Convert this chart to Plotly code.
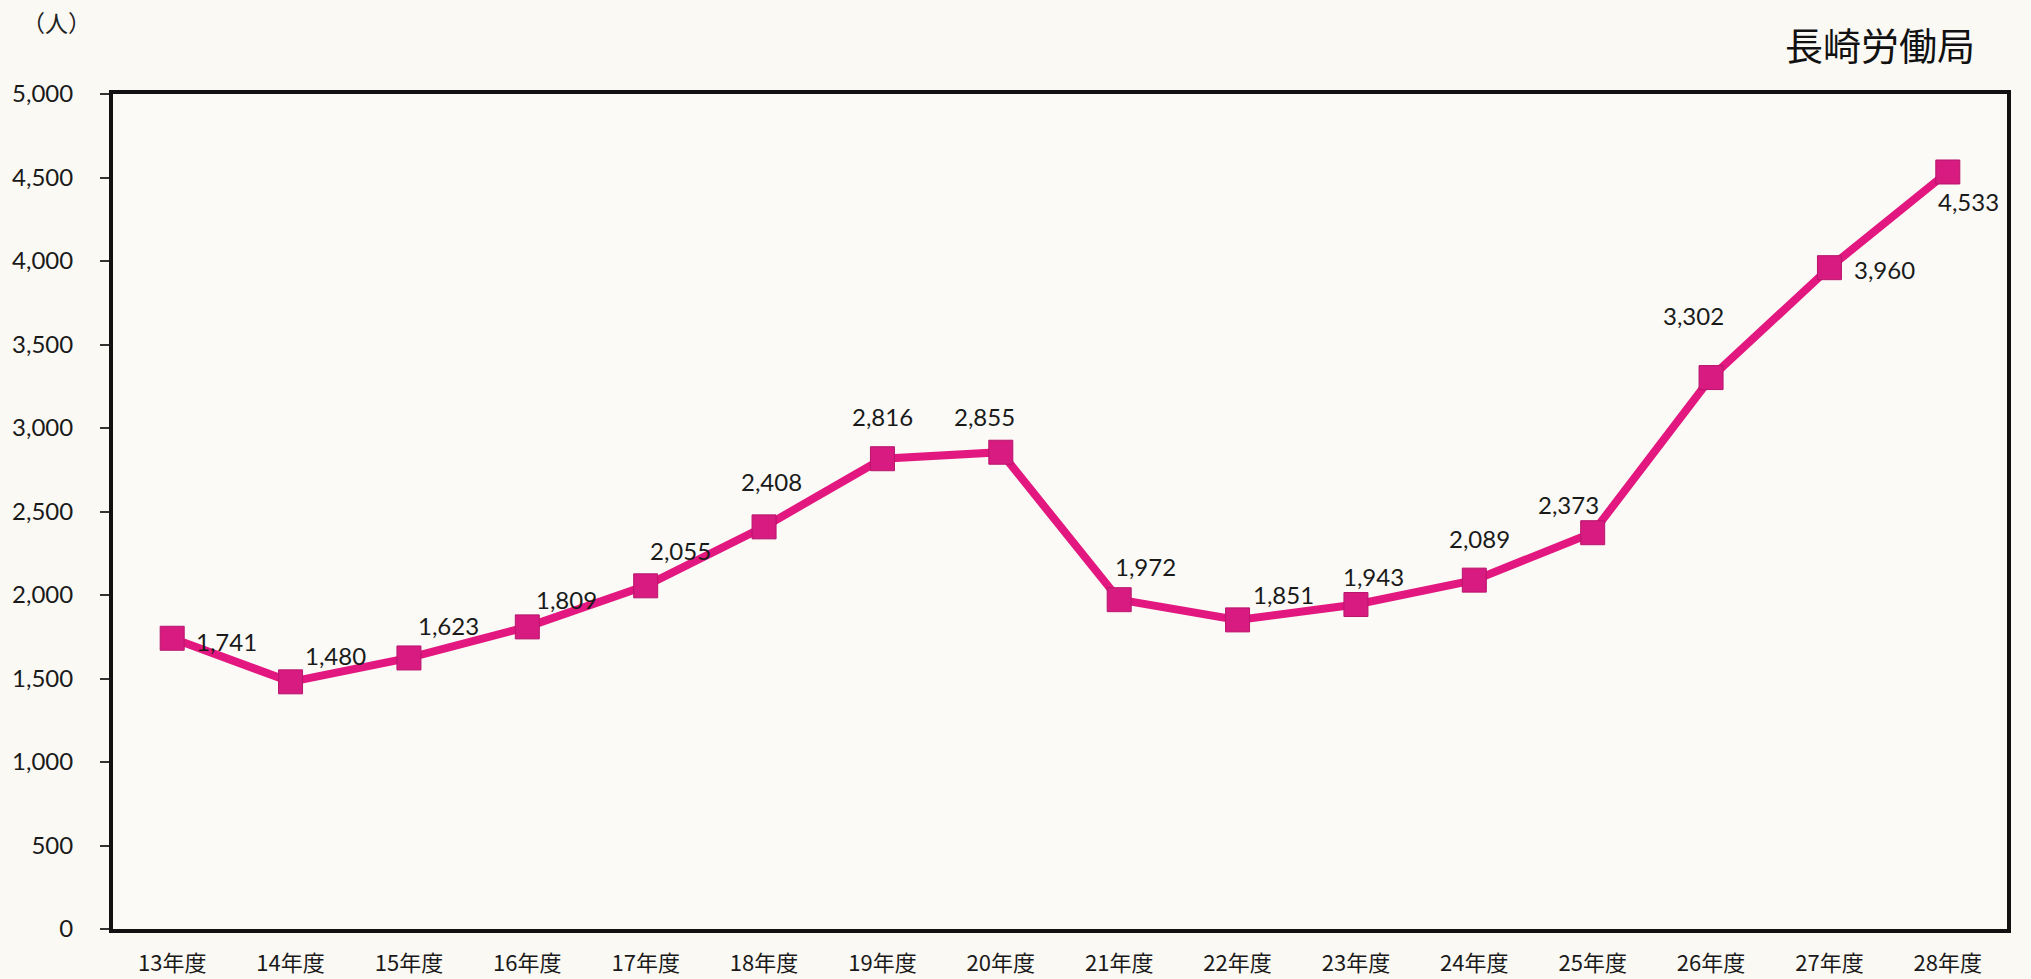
import plotly.graph_objects as go

categories = ["13年度", "14年度", "15年度", "16年度", "17年度", "18年度", "19年度", "20年度",
              "21年度", "22年度", "23年度", "24年度", "25年度", "26年度", "27年度", "28年度"]
values = [1741, 1480, 1623, 1809, 2055, 2408, 2816, 2855,
          1972, 1851, 1943, 2089, 2373, 3302, 3960, 4533]
y_ticks = [0, 500, 1000, 1500, 2000, 2500, 3000, 3500, 4000, 4500, 5000]

# label offsets in pixels (style only)
label_dx = [54, 45, 40, 39, 35, 7, 0, -16, 26, 46, 18, 5, -24, -18, 55, 21]
label_dy = [3, -26, -32, -27, -35, -45, -42, -36, -33, -25, -28, -42, -28, -62, 2, 30]

FONT = "Lato, 'Noto Sans CJK JP', sans-serif"
JP = "'Noto Sans CJK JP', sans-serif"
LINE_COLOR = "#E2177F"
MARKER_COLOR = "#D71B80"

fig = go.Figure()
fig.add_trace(go.Scatter(
    x=categories, y=values, mode="lines+markers",
    line=dict(color=LINE_COLOR, width=8),
    marker=dict(symbol="square", size=24, color=MARKER_COLOR,
                line=dict(color="#B8156C", width=1)),
    hoverinfo="x+y", showlegend=False,
))

annotations = []
for c, v, dx, dy in zip(categories, values, label_dx, label_dy):
    annotations.append(dict(
        x=c, y=v, xref="x", yref="y", text=f"{v:,}", showarrow=False,
        xshift=dx, yshift=-dy, font=dict(family=FONT, size=24, color="#1a1a1a"),
        xanchor="center", yanchor="middle",
    ))

W, H = 2031, 979
ml, mr, mt, mb = 113, 24, 94, 50
pw, ph = W - ml - mr, H - mt - mb

extra = [
    dict(px=20, py=22, text="（人）", size=23, xanchor="left", color="#222"),
    dict(px=1977, py=44, text="長崎労働局", size=38, xanchor="right", color="#111"),
]
for e in extra:
    annotations.append(dict(
        x=(e["px"] - ml) / pw, y=1 - (e["py"] - mt) / ph,
        xref="paper", yref="paper", text=e["text"], showarrow=False,
        font=dict(family=JP, size=e["size"], color=e["color"]),
        xanchor=e["xanchor"], yanchor="middle",
    ))

fig.update_layout(
    width=W, height=H,
    margin=dict(l=ml, r=mr, t=mt, b=mb),
    paper_bgcolor="#FAF9F4",
    plot_bgcolor="#FBFAF6",
    annotations=annotations,
    xaxis=dict(
        type="category", range=[-0.5, 15.5], automargin=False,
        showline=True, linecolor="#111", linewidth=4, mirror=True,
        showgrid=False, zeroline=False, ticks="",
        tickfont=dict(family=JP, size=22, color="#1a1a1a"),
        ticklabelstandoff=12,
    ),
    yaxis=dict(
        range=[0, 5000], tickvals=y_ticks, automargin=False,
        ticktext=[f"{t:,}" for t in y_ticks],
        showline=True, linecolor="#111", linewidth=4, mirror=True,
        showgrid=False, zeroline=False,
        ticks="outside", ticklen=9, tickwidth=2, tickcolor="#333",
        tickfont=dict(family=FONT, size=24, color="#1a1a1a"),
        ticklabelstandoff=22,
    ),
)

fig.write_html("out.html", config={"displayModeBar": False},
               post_script="document.body.style.margin='0';")
